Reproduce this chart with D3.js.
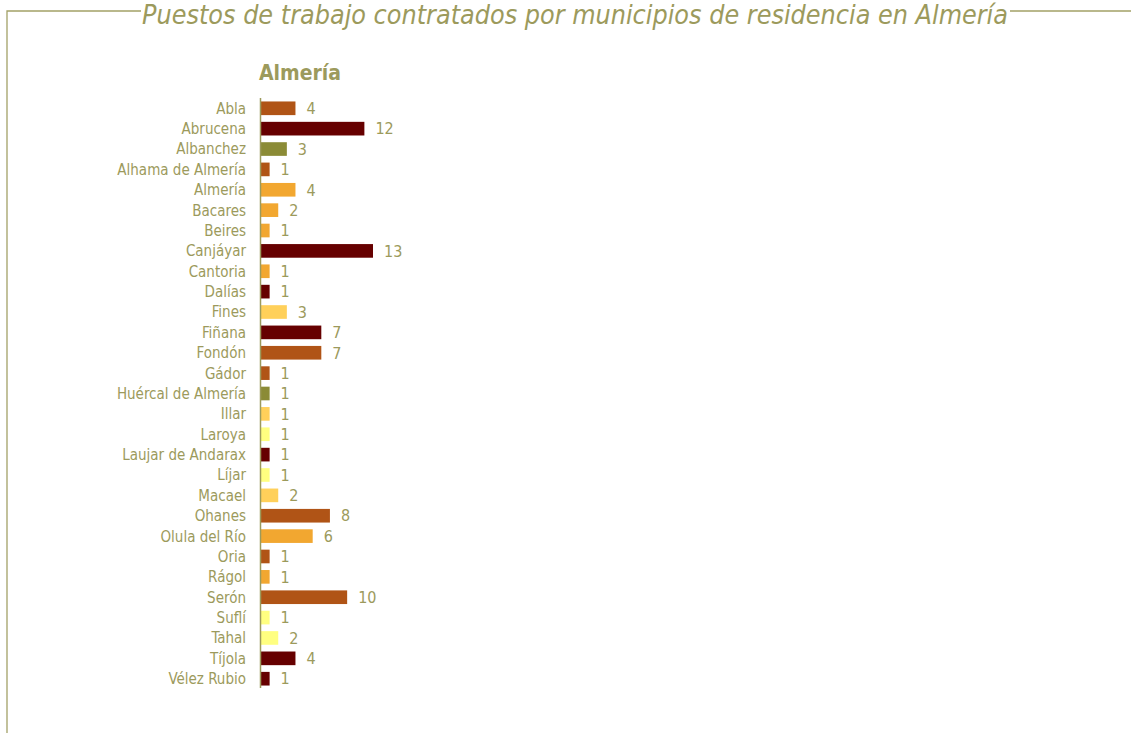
<!DOCTYPE html>
<html>
<head>
<meta charset="utf-8">
<script src="https://cdn.jsdelivr.net/npm/d3@7"></script>
<style>
  body { margin: 0; background: #fff; }
  svg { display: block; }
  text { font-family: "Liberation Sans Narrow", "DejaVu Sans Condensed", "Arial Narrow", sans-serif; fill: #9c9a5c; }
</style>
</head>
<body>
<script>
const municipios = ["Abla", "Abrucena", "Albanchez", "Alhama de Almería", "Almería", "Bacares", "Beires",
    "Canjáyar", "Cantoria", "Dalías", "Fines", "Fiñana", "Fondón", "Gádor", "Huércal de Almería", "Illar",
    "Laroya", "Laujar de Andarax", "Líjar", "Macael", "Ohanes", "Olula del Río", "Oria", "Rágol", "Serón",
    "Suflí", "Tahal", "Tíjola", "Vélez Rubio"];
const puestos = [4, 12, 3, 1, 4, 2, 1, 13, 1, 1, 3, 7, 7, 1, 1, 1, 1, 1, 1, 2, 8, 6, 1, 1, 10, 1, 2, 4, 1];
// colour group of each municipality
const grupos = ["b", "r", "o", "b", "n", "n", "n", "r", "n", "r", "l", "r", "b", "b", "o", "l",
    "y", "r", "y", "l", "b", "n", "b", "n", "b", "y", "y", "r", "r"];
const colores = { b: "#b05416", r: "#660000", o: "#8b8b36", n: "#f2a730", l: "#ffd05a", y: "#ffff80" };

const width = 1131, height = 733;
const olive = "#9c9a5c";

const svg = d3.select("body").append("svg")
    .attr("width", width)
    .attr("height", height);

// frame around the chart, broken where the title sits
svg.append("path")
    .attr("d", "M7,733 V11 H141 M1010,11 H1131")
    .attr("fill", "none")
    .attr("stroke", "#a3a167")
    .attr("stroke-width", 1.3);

svg.append("text")
    .attr("x", 142)
    .attr("y", 24)
    .attr("textLength", 866)
    .attr("lengthAdjust", "spacingAndGlyphs")
    .style("font-style", "italic")
    .style("font-size", "27px")
    .text("Puestos de trabajo contratados por municipios de residencia en Almería");

svg.append("text")
    .attr("x", 259)
    .attr("y", 80)
    .attr("textLength", 82)
    .attr("lengthAdjust", "spacingAndGlyphs")
    .style("font-size", "22px")
    .style("font-weight", "bold")
    .text("Almería");

const x = d3.scaleLinear()
    .domain([0, 13])
    .range([261, 373]);

const y = d3.scaleBand()
    .domain(municipios)
    .range([98, 689])
    .paddingInner(0.33)
    .paddingOuter(0.17);

svg.append("g")
    .selectAll("rect")
    .data(municipios)
    .enter().append("rect")
    .attr("x", x(0))
    .attr("y", d => y(d))
    .attr("width", (d, i) => x(puestos[i]) - x(0))
    .attr("height", y.bandwidth())
    .attr("fill", (d, i) => colores[grupos[i]]);

svg.append("g")
    .selectAll("text")
    .data(municipios)
    .enter().append("text")
    .attr("x", 246)
    .attr("y", d => y(d) + y.bandwidth() / 2)
    .attr("dy", "0.36em")
    .attr("text-anchor", "end")
    .style("font-size", "15px")
    .text(d => d);

svg.append("g")
    .selectAll("text")
    .data(municipios)
    .enter().append("text")
    .attr("x", (d, i) => x(puestos[i]) + 11)
    .attr("y", d => y(d) + y.bandwidth() / 2)
    .attr("dy", "0.36em")
    .style("font-size", "16px")
    .text((d, i) => puestos[i]);

svg.append("line")
    .attr("x1", x(0) - 0.5)
    .attr("x2", x(0) - 0.5)
    .attr("y1", 98)
    .attr("y2", 688)
    .attr("stroke", olive)
    .attr("stroke-width", 1.5);
</script>
</body>
</html>
